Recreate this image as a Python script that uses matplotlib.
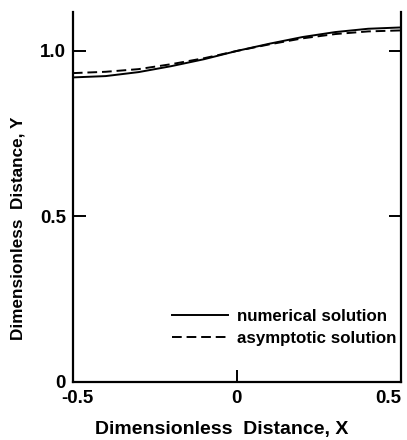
import matplotlib
matplotlib.use('Agg')
import matplotlib.pyplot as plt
import matplotlib.transforms as mtransforms
import numpy as np

plt.rcParams['font.family'] = ['Liberation Sans', 'DejaVu Sans']

# values
x = [-0.5, -0.4, -0.3, -0.2, -0.1, 0.0, 0.1, 0.2, 0.3, 0.4, 0.5]
y_numerical = [0.920, 0.924, 0.936, 0.954, 0.975, 1.000, 1.022, 1.042, 1.057, 1.067, 1.071]
y_asymptotic = [0.933, 0.937, 0.945, 0.960, 0.978, 1.000, 1.020, 1.038, 1.051, 1.059, 1.062]

xticks = [-0.5, 0, 0.5]
xtick_labels = ['-0.5', '0', '0.5']
yticks = [0, 0.5, 1.0]
ytick_labels = ['0', '0.5', '1.0']

fig = plt.figure(figsize=(4.07, 4.4), dpi=100)
ax = fig.add_axes([0.179, 0.132, 0.806, 0.841])

ax.plot(x, y_numerical, color='black', lw=1.4, ls='-', label='numerical solution')
ax.plot(x, y_asymptotic, color='black', lw=1.4, ls=(0, (5, 2.5)), label='asymptotic solution')

ax.set_xlim(-0.5, 0.5)
ax.set_ylim(0, 1.118)

for s in ['left', 'bottom', 'right']:
    ax.spines[s].set_linewidth(1.6)
ax.spines['top'].set_visible(False)

ax.set_xticks(xticks)
ax.set_xticklabels(xtick_labels, fontweight='bold')
ax.set_yticks(yticks)
ax.set_yticklabels(ytick_labels, fontweight='bold')
ax.tick_params(axis='both', direction='in', length=9, width=1.4, labelsize=13.5)
ax.tick_params(axis='x', pad=6)
ax.tick_params(axis='y', pad=5, right=True, labelright=False)

# end labels sit inside the axis ends, as in the reference
xl = ax.get_xticklabels()
xl[0].set_transform(xl[0].get_transform() + mtransforms.ScaledTranslation(5 / 100, 0, fig.dpi_scale_trans))
xl[-1].set_horizontalalignment('right')

ax.set_xlabel('Dimensionless  Distance, X', fontsize=14, fontweight='bold', va='center')
ax.xaxis.set_label_coords(0.454, -0.128)
ax.set_ylabel('Dimensionless  Distance, Y', fontsize=12.3, fontweight='bold')
ax.yaxis.set_label_coords(-0.145, 0.416)

ax.legend(loc='center left', bbox_to_anchor=(0.302, 0.147), frameon=False,
          prop={'size': 12.2, 'weight': 'bold'}, handlelength=3.3, handletextpad=0.55,
          labelspacing=0.45, borderaxespad=0, borderpad=0)

fig.savefig('out.png', dpi=100)
